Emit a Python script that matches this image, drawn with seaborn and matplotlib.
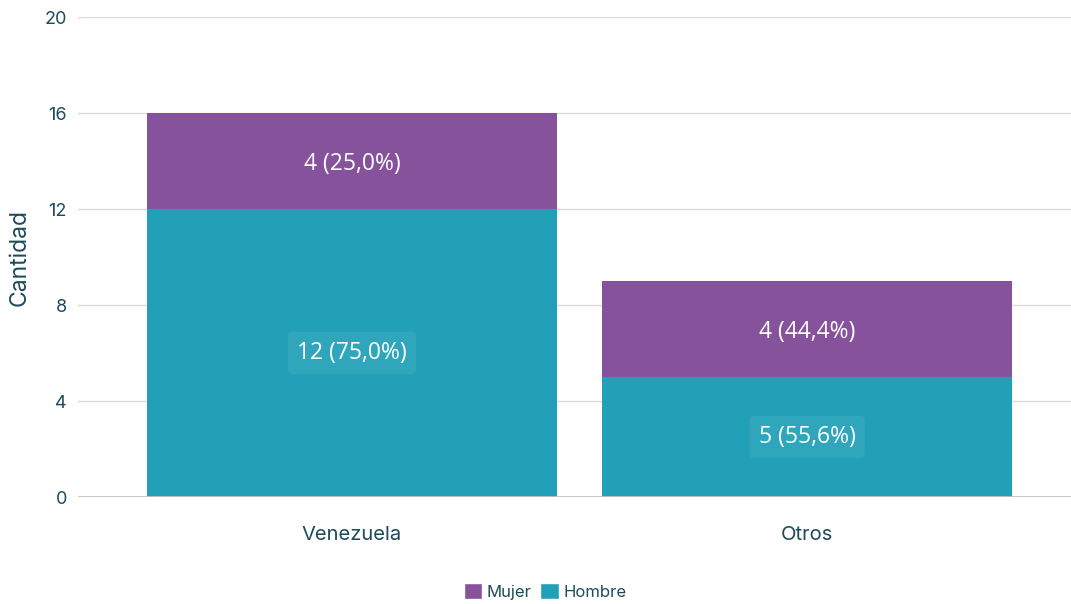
import matplotlib
matplotlib.use("Agg")
import matplotlib.pyplot as plt
import seaborn as sns
import pandas as pd
from matplotlib.patches import Patch

categories = ["Venezuela", "Otros"]
hombre = [12, 5]
mujer = [4, 4]
hombre_pct = ["75,0%", "55,6%"]
mujer_pct = ["25,0%", "44,4%"]
yticks = [0, 4, 8, 12, 16, 20]

c_mujer = "#87529C"
c_hombre = "#21A0B8"
c_text = "#1D4A5C"

sns.set_theme(style="white")
plt.rcParams["font.family"] = ["Inter", "DejaVu Sans"]

df = pd.DataFrame({"cat": categories, "hombre": hombre, "mujer": mujer})
df["total"] = df["hombre"] + df["mujer"]

fig = plt.figure(figsize=(10.71, 6.04), dpi=100)
ax = fig.add_axes([78 / 1071, 107 / 604, 1 - 78 / 1071, 480 / 604])

sns.barplot(data=df, x="cat", y="total", color=c_mujer, saturation=1, width=0.9, ax=ax, zorder=3)
sns.barplot(data=df, x="cat", y="hombre", color=c_hombre, saturation=1, width=0.9, ax=ax, zorder=3)
for p in ax.patches:
    p.set_linewidth(0)

ax.set_ylim(0, 20)
ax.set_xlim(-0.602, 1.580)
ax.set_yticks(yticks)
ax.set_yticklabels([str(t) for t in yticks])
ax.yaxis.grid(True, color="#DADADA", linewidth=1, zorder=0)
ax.axhline(0, color="#C4C4C4", linewidth=2, zorder=4)
for s in ax.spines.values():
    s.set_visible(False)
ax.tick_params(axis="y", length=0, pad=8, labelsize=13, labelcolor=c_text)
ax.tick_params(axis="x", length=0, pad=21, labelsize=14.5, labelcolor=c_text)
ax.set_xlabel("")
ax.set_ylabel("Cantidad", fontsize=16.5, color=c_text, labelpad=10)

for i in range(len(categories)):
    h = df["hombre"][i]
    m = df["mujer"][i]
    ax.text(i, h / 2, f"{h} ({hombre_pct[i]})", ha="center", va="center", fontsize=16.5,
            color="white", family=["Open Sans", "DejaVu Sans"], zorder=5,
            bbox=dict(boxstyle="round,pad=0.4,rounding_size=0.2", facecolor="white",
                      alpha=0.07, edgecolor="none"))
    ax.text(i, h + m / 2 - 0.12, f"{m} ({mujer_pct[i]})", ha="center", va="center", fontsize=16.5,
            color="white", family=["Open Sans", "DejaVu Sans"], zorder=5)

handles = [Patch(facecolor=c_mujer, label="Mujer"), Patch(facecolor=c_hombre, label="Hombre")]
fig.legend(handles=handles, loc="center", bbox_to_anchor=(0.509, 0.021), ncol=2, frameon=False,
           fontsize=12, handlelength=1.1, handleheight=1.1, handletextpad=0.3, columnspacing=0.5,
           labelcolor=c_text)

fig.savefig("out.png", dpi=100)
